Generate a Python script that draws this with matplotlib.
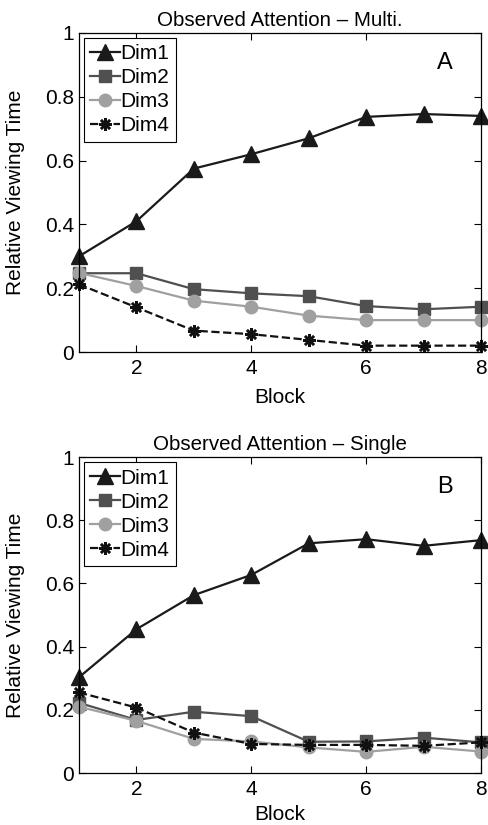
import numpy as np
import matplotlib
matplotlib.use('Agg')
from matplotlib import pyplot as plt

plt.rcParams['font.family'] = ['Liberation Sans', 'DejaVu Sans']

blocks = [1, 2, 3, 4, 5, 6, 7, 8]

# Panel A - Multi.
multi_dim1 = [0.30, 0.41, 0.575, 0.62, 0.67, 0.737, 0.746, 0.74]
multi_dim2 = [0.247, 0.247, 0.197, 0.184, 0.175, 0.144, 0.134, 0.142]
multi_dim3 = [0.248, 0.207, 0.161, 0.142, 0.114, 0.10, 0.10, 0.10]
multi_dim4 = [0.212, 0.140, 0.067, 0.056, 0.038, 0.02, 0.02, 0.02]

# Panel B - Single
single_dim1 = [0.303, 0.455, 0.563, 0.627, 0.727, 0.74, 0.719, 0.737]
single_dim2 = [0.222, 0.168, 0.194, 0.180, 0.099, 0.10, 0.112, 0.097]
single_dim3 = [0.21, 0.165, 0.108, 0.10, 0.081, 0.067, 0.083, 0.068]
single_dim4 = [0.255, 0.207, 0.128, 0.092, 0.089, 0.089, 0.086, 0.097]

titles = ["Observed Attention \u2013 Multi.", "Observed Attention \u2013 Single"]
letters = ["A", "B"]
panels = [
    [multi_dim1, multi_dim2, multi_dim3, multi_dim4],
    [single_dim1, single_dim2, single_dim3, single_dim4],
]
names = ["Dim1", "Dim2", "Dim3", "Dim4"]

styles = [
    dict(color="#1a1a1a", marker="^", markersize=11, linestyle="-"),
    dict(color="#505050", marker="s", markersize=8, linestyle="-"),
    dict(color="#a0a0a0", marker="o", markersize=9, linestyle="-"),
    dict(color="#111111", marker=(8, 2, 0), markersize=9, markeredgewidth=1.8, linestyle="--"),
]

fig = plt.figure(figsize=(4.89, 8.25), dpi=100)
ax_pos = [[0.1616, 0.5733, 0.822, 0.3867], [0.1616, 0.063, 0.822, 0.383]]
xlabel_pads = [7, 4]

for p, series in enumerate(panels):
    ax = fig.add_axes(ax_pos[p])
    for name, vals, st in zip(names, series, styles):
        ax.plot(blocks, vals, label=name, linewidth=1.6, clip_on=False, **st)
    ax.set_xlim(1, 8)
    ax.set_ylim(0, 1)
    ax.set_xticks([2, 4, 6, 8])
    ax.set_yticks([0, 0.2, 0.4, 0.6, 0.8, 1])
    ax.set_yticklabels(["0", "0.2", "0.4", "0.6", "0.8", "1"])
    ax.tick_params(direction="in", top=True, right=True, labelsize=15, length=5, width=0.8)
    ax.tick_params(axis="x", pad=5)
    for s in ax.spines.values():
        s.set_linewidth(0.9)
    ax.set_title(titles[p], fontsize=14.8, pad=5)
    ax.set_xlabel("Block", fontsize=15, labelpad=xlabel_pads[p])
    ax.set_ylabel("Relative Viewing Time", fontsize=15)
    ax.yaxis.set_label_coords(-0.135, 0.5)
    ax.text(0.91, 0.905, letters[p], transform=ax.transAxes, fontsize=17, ha="center", va="center")
    leg = ax.legend(loc="upper left", fontsize=15, handlelength=1.4, handletextpad=0.05,
                    borderpad=0.3, labelspacing=0.24, borderaxespad=0.25, fancybox=False,
                    framealpha=1)
    leg.get_frame().set_edgecolor("black")
    leg.get_frame().set_linewidth(0.8)

fig.savefig("out.png", dpi=100)
